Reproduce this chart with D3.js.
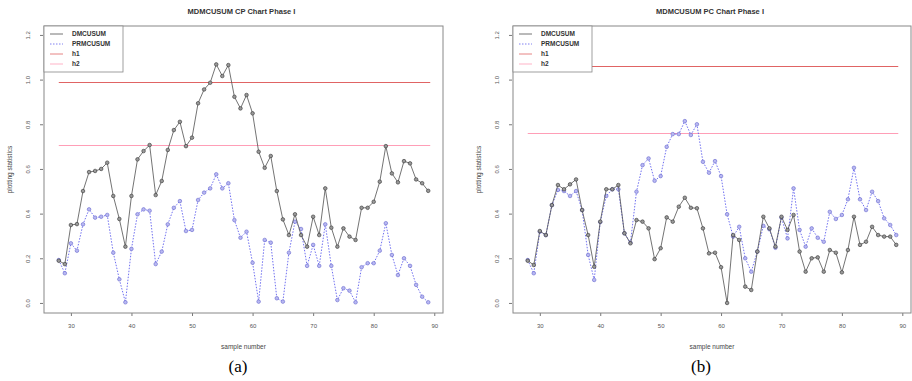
<!DOCTYPE html>
<html>
<head>
<meta charset="utf-8">
<script src="https://cdn.jsdelivr.net/npm/d3@7"></script>
<style>
  body { margin: 0; background: #fff; }
  svg { display: block; font-family: "Liberation Sans", Arial, sans-serif; }
</style>
</head>
<body>
<div id="chart"></div>
<script>
// sample numbers on the x axis
const samples = [28, 29, 30, 31, 32, 33, 34, 35, 36, 37, 38, 39, 40, 41, 42, 43, 44, 45, 46, 47,
    48, 49, 50, 51, 52, 53, 54, 55, 56, 57, 58, 59, 60, 61, 62, 63, 64, 65, 66, 67,
    68, 69, 70, 71, 72, 73, 74, 75, 76, 77, 78, 79, 80, 81, 82, 83, 84, 85, 86, 87,
    88, 89];

// (a) CP chart
const cpDmcusum = [0.189, 0.174, 0.349, 0.353, 0.501, 0.586, 0.591, 0.600, 0.628, 0.479,
    0.376, 0.252, 0.479, 0.643, 0.680, 0.707, 0.483, 0.546, 0.685, 0.774,
    0.811, 0.702, 0.740, 0.894, 0.956, 0.986, 1.068, 1.016, 1.065, 0.923,
    0.871, 0.931, 0.849, 0.677, 0.605, 0.658, 0.501, 0.374, 0.304, 0.397,
    0.304, 0.252, 0.386, 0.304, 0.513, 0.337, 0.252, 0.334, 0.297, 0.282,
    0.426, 0.426, 0.453, 0.543, 0.702, 0.580, 0.540, 0.635, 0.625, 0.553,
    0.536, 0.502];
const cpPrmcusum = [0.192, 0.133, 0.267, 0.234, 0.352, 0.419, 0.382, 0.386, 0.394, 0.225,
    0.106, 0.003, 0.242, 0.397, 0.419, 0.413, 0.174, 0.230, 0.352, 0.426,
    0.456, 0.322, 0.327, 0.461, 0.494, 0.513, 0.576, 0.513, 0.536, 0.371,
    0.292, 0.319, 0.180, 0.006, 0.282, 0.270, 0.021, 0.006, 0.225, 0.364,
    0.331, 0.166, 0.260, 0.166, 0.352, 0.166, 0.013, 0.066, 0.055, 0.003,
    0.160, 0.178, 0.178, 0.234, 0.357, 0.215, 0.125, 0.200, 0.166, 0.081,
    0.028, 0.003];
const cpLimits = [0.99, 0.707];

// (b) PC chart
const pcDmcusum = [0.189, 0.170, 0.322, 0.304, 0.438, 0.528, 0.509, 0.531, 0.553, 0.416,
    0.304, 0.162, 0.364, 0.509, 0.509, 0.528, 0.312, 0.267, 0.371, 0.364,
    0.334, 0.196, 0.245, 0.383, 0.364, 0.431, 0.471, 0.426, 0.424, 0.334,
    0.222, 0.225, 0.160, 0.000, 0.304, 0.282, 0.073, 0.058, 0.230, 0.386,
    0.334, 0.252, 0.386, 0.327, 0.394, 0.230, 0.140, 0.200, 0.204, 0.140,
    0.237, 0.225, 0.137, 0.237, 0.386, 0.260, 0.274, 0.341, 0.304, 0.297,
    0.297, 0.260];
const pcPrmcusum = [0.192, 0.133, 0.319, 0.304, 0.438, 0.506, 0.501, 0.479, 0.501, 0.416,
    0.215, 0.103, 0.362, 0.479, 0.509, 0.509, 0.312, 0.270, 0.498, 0.617,
    0.647, 0.547, 0.568, 0.699, 0.756, 0.756, 0.814, 0.752, 0.800, 0.632,
    0.583, 0.635, 0.568, 0.397, 0.297, 0.341, 0.200, 0.140, 0.230, 0.345,
    0.330, 0.247, 0.382, 0.289, 0.513, 0.327, 0.252, 0.334, 0.292, 0.274,
    0.408, 0.376, 0.394, 0.464, 0.605, 0.464, 0.416, 0.498, 0.456, 0.379,
    0.349, 0.304];
const pcLimits = [1.06, 0.759];

const xTicks = [30, 40, 50, 60, 70, 80, 90];
const yTicks = [0, 0.2, 0.4, 0.6, 0.8, 1.0, 1.2];
const legendLabels = ["DMCUSUM", "PRMCUSUM", "h1", "h2"];

const width = 912;
const height = 381;
const dark = "#505050";
const blue = "#6060ee";
const red1 = "#e06464";
const red2 = "#ff4f7b";

const svg = d3.select("#chart").append("svg")
    .attr("width", width)
    .attr("height", height);

function drawPanel(opts) {
    const box = opts.box; // left, top, right, bottom
    const x = d3.scaleLinear().domain([25.56, 91.44]).range([box[0], box[2]]);
    const y = d3.scaleLinear().domain([-0.045, 1.24]).range([box[3], box[1]]);
    const g = svg.append("g");

    // title
    g.append("text")
        .attr("x", (box[0] + box[2]) / 2 - 2)
        .attr("y", 14)
        .attr("text-anchor", "middle")
        .style("font-size", "7.5px")
        .style("font-weight", "bold")
        .attr("fill", "#333")
        .text(opts.title);

    // x axis
    const xAxis = g.append("g")
        .attr("transform", `translate(0,${box[3]})`)
        .call(d3.axisBottom(x).tickValues(xTicks).tickSize(3).tickPadding(8));
    xAxis.select(".domain").remove();
    xAxis.selectAll("line").attr("stroke", "#777");
    xAxis.selectAll("text").style("font-size", "6px").attr("fill", "#555")
        .style("font-family", "'Liberation Sans', Arial, sans-serif");

    // y axis
    const yAxis = g.append("g")
        .attr("transform", `translate(${box[0] - 1},0)`)
        .call(d3.axisLeft(y).tickValues(yTicks).tickSize(3).tickFormat(d3.format(".1f")));
    yAxis.select(".domain").remove();
    yAxis.selectAll("line").attr("stroke", "#777");
    yAxis.selectAll("text")
        .style("font-size", "6px")
        .attr("fill", "#555")
        .style("font-family", "'Liberation Sans', Arial, sans-serif")
        .attr("text-anchor", "middle")
        .attr("x", 0)
        .attr("dy", 0)
        .attr("transform", "translate(-13,0) rotate(-90)");

    // axis titles
    g.append("text")
        .attr("x", (box[0] + box[2]) / 2)
        .attr("y", 349)
        .attr("text-anchor", "middle")
        .style("font-size", "6.5px")
        .attr("fill", "#444")
        .text("sample number");
    g.append("text")
        .attr("transform", `translate(${box[0] - 32},${(box[1] + box[3]) / 2}) rotate(-90)`)
        .attr("text-anchor", "middle")
        .style("font-size", "6.5px")
        .attr("fill", "#444")
        .text("plotting statistics");

    // control limits
    const first = samples[0];
    const last = samples[samples.length - 1];
    [red1, red2].forEach((c, i) => {
        const ly = Math.round(y(opts.limits[i])) + 0.5;
        g.append("line")
            .attr("x1", x(first)).attr("x2", x(last) + 2)
            .attr("y1", ly).attr("y2", ly)
            .attr("stroke", c)
            .attr("stroke-opacity", i === 1 ? 0.55 : 1)
            .attr("stroke-width", 1);
    });

    const line = d3.line().x((d, i) => x(samples[i])).y(d => y(d));

    // PRMCUSUM (dotted blue)
    g.append("path")
        .datum(opts.blue)
        .attr("d", line)
        .attr("fill", "none")
        .attr("stroke", blue)
        .attr("stroke-width", 0.9)
        .attr("stroke-dasharray", "1.5,1.5");
    g.selectAll(".pb")
        .data(opts.blue)
        .enter().append("circle")
        .attr("cx", (d, i) => x(samples[i]))
        .attr("cy", d => y(d))
        .attr("r", 1.8)
        .attr("fill", "#b8b8f2")
        .attr("stroke", "#6666cc")
        .attr("stroke-width", 0.6);

    // DMCUSUM (solid dark)
    g.append("path")
        .datum(opts.black)
        .attr("d", line)
        .attr("fill", "none")
        .attr("stroke", dark)
        .attr("stroke-width", 0.8);
    g.selectAll(".pk")
        .data(opts.black)
        .enter().append("circle")
        .attr("cx", (d, i) => x(samples[i]))
        .attr("cy", d => y(d))
        .attr("r", 1.8)
        .attr("fill", "#999")
        .attr("stroke", "#333")
        .attr("stroke-width", 0.6);

    // plot frame
    g.append("rect")
        .attr("x", box[0]).attr("y", box[1])
        .attr("width", box[2] - box[0]).attr("height", box[3] - box[1])
        .attr("fill", "none")
        .attr("stroke", "#888")
        .attr("stroke-width", 1);

    // legend
    const lg = g.append("g").attr("transform", `translate(${box[0]},${box[1]})`);
    lg.append("rect")
        .attr("width", 79).attr("height", 46)
        .attr("fill", "#fff")
        .attr("stroke", "#888")
        .attr("stroke-width", 0.8);
    const styles = [
        { c: dark, dash: null, o: 1 },
        { c: blue, dash: "1.5,1.5", o: 1 },
        { c: red1, dash: null, o: 1 },
        { c: red2, dash: null, o: 0.55 },
    ];
    legendLabels.forEach((lab, i) => {
        const yy = 8 + i * 10;
        lg.append("line")
            .attr("x1", 6).attr("x2", 19)
            .attr("y1", yy).attr("y2", yy)
            .attr("stroke", styles[i].c)
            .attr("stroke-opacity", styles[i].o)
            .attr("stroke-width", 0.8)
            .attr("stroke-dasharray", styles[i].dash);
        lg.append("text")
            .attr("x", 28)
            .attr("y", yy + 2.3)
            .style("font-size", "6.5px")
            .style("font-weight", "bold")
            .attr("fill", "#333")
            .text(lab);
    });

    // panel caption
    g.append("text")
        .attr("x", opts.capX)
        .attr("y", 372)
        .attr("text-anchor", "middle")
        .style("font-family", "'Liberation Serif', 'Times New Roman', serif")
        .style("font-size", "17px")
        .attr("fill", "#000")
        .text(opts.caption);
}

drawPanel({
    box: [44, 26, 443, 313],
    title: "MDMCUSUM CP Chart Phase I",
    black: cpDmcusum,
    blue: cpPrmcusum,
    limits: cpLimits,
    caption: "(a)",
    capX: 238,
});
drawPanel({
    box: [513, 26, 911, 313],
    title: "MDMCUSUM PC Chart Phase I",
    black: pcDmcusum,
    blue: pcPrmcusum,
    limits: pcLimits,
    caption: "(b)",
    capX: 701,
});
</script>
</body>
</html>
